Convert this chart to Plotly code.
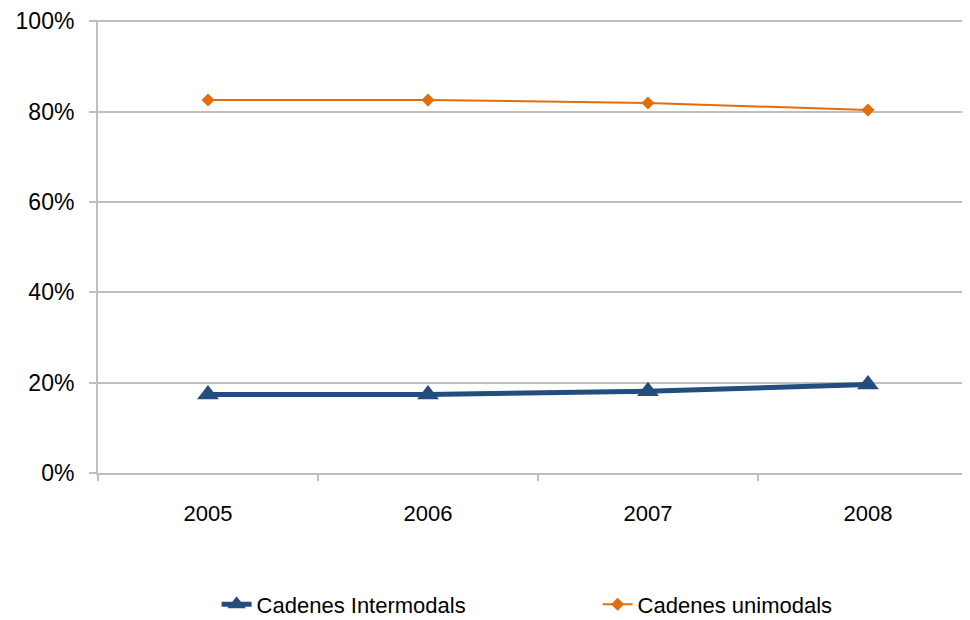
import plotly.graph_objects as go

years = ['2005', '2006', '2007', '2008']
intermodals = [0.174, 0.174, 0.181, 0.196]
unimodals = [0.826, 0.826, 0.819, 0.804]
ytick_vals = [0, 0.2, 0.4, 0.6, 0.8, 1.0]

xpos = list(range(len(years)))

fig = go.Figure()

fig.add_trace(go.Scatter(
    x=xpos, y=intermodals,
    mode='lines+markers',
    name='Cadenes Intermodals',
    line=dict(color='#234C7F', width=5),
    marker=dict(symbol='triangle-up', size=19, color='#234C7F')
))

fig.add_trace(go.Scatter(
    x=xpos, y=unimodals,
    mode='lines+markers',
    name='Cadenes unimodals',
    line=dict(color='#E46C0A', width=2),
    marker=dict(symbol='diamond', size=10, color='#E46C0A')
))

# page body has an 8px margin, so the figure is a bit smaller than the window
fig.update_layout(
    width=962, height=612,
    margin=dict(l=90, r=0, t=12, b=147, autoexpand=False),
    paper_bgcolor='white',
    plot_bgcolor='white',
    font=dict(family='Liberation Sans, Arial', size=22, color='black'),
    legend=dict(orientation='h', x=0.136, xanchor='left', y=-0.29, yanchor='middle',
                font=dict(size=22), entrywidth=336, entrywidthmode='pixels'),
    xaxis=dict(
        range=[-0.5, 3.464], automargin=False,
        tickmode='array', tickvals=xpos, ticktext=years,
        ticks='', showgrid=False,
        showline=True, linecolor='#BFBFBF', linewidth=2,
        ticklabelstandoff=20,
        minor=dict(tickmode='linear', tick0=0.5, dtick=1, ticks='outside',
                   ticklen=6, tickcolor='#BFBFBF', tickwidth=2, showgrid=False),
        zeroline=False,
    ),
    yaxis=dict(
        range=[0, 1.003], automargin=False,
        tickmode='array', tickvals=ytick_vals, tickformat='.0%',
        tickfont=dict(size=23), ticklabeloverflow='allow',
        showgrid=True, gridcolor='#BFBFBF', gridwidth=2,
        ticks='outside', ticklen=7, tickcolor='#BFBFBF', tickwidth=2,
        showline=True, linecolor='#BFBFBF', linewidth=2,
        zeroline=False,
        ticklabelstandoff=10,
    ),
)

fig.write_html('out.html')
